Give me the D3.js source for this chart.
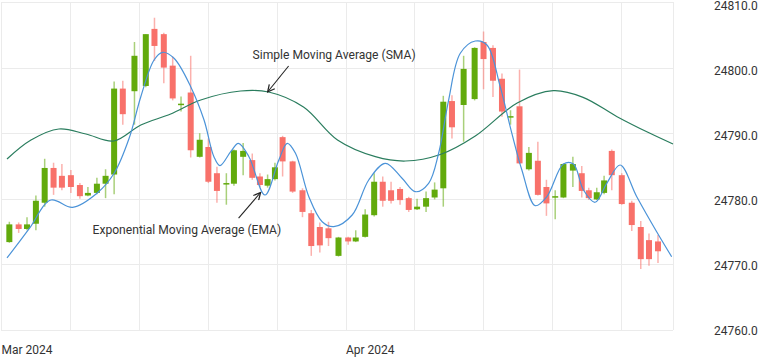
<!DOCTYPE html>
<html>
<head>
<meta charset="utf-8">
<script src="https://cdn.jsdelivr.net/npm/d3@7"></script>
<style>
  body { margin: 0; background: #fff; }
  text { font-family: Roboto, sans-serif; fill: #333; }
</style>
</head>
<body>
<script>
// Candle data (time in days since 1 Mar 2024)
const days = [0.75, 1.59, 2.34, 3.14, 3.93, 4.73, 5.48, 6.29, 7.10, 7.82, 8.63, 9.41, 10.18, 10.96, 12.01, 13.03, 13.81, 14.65, 15.45, 16.20,
  17.07, 17.88, 18.66, 19.43, 20.28, 20.96, 21.79, 22.61, 23.30, 23.99, 24.65, 25.34, 26.24, 27.13, 27.92, 28.69, 29.47, 30.37, 31.24, 31.92,
  32.77, 33.58, 34.35, 35.10, 35.91, 36.69, 37.44, 38.25, 39.02, 39.80, 40.58, 41.63, 42.62, 43.42, 44.27, 45.08, 45.85, 46.66, 47.50, 48.31,
  49.08, 49.87, 50.61, 51.46, 52.26, 52.89, 53.61, 54.27, 54.96, 55.86, 56.76, 57.57, 58.31, 59.12];
const opens = [24773.4, 24776.1, 24775.4, 24776.2, 24779.4, 24784.7, 24783.5, 24783.6, 24782.1, 24780.5, 24780.9, 24782.3, 24783.7, 24796.8, 24796.4, 24797.2, 24805.9, 24805.1, 24800.3, 24794.3,
  24796.2, 24786.4, 24787.9, 24783.9, 24782.2, 24782.3, 24786.4, 24785.9, 24783.4, 24782.0, 24783.0, 24789.4, 24785.7, 24781.3, 24777.8, 24775.7, 24775.5, 24771.3, 24774.1, 24773.5,
  24774.2, 24777.5, 24782.6, 24781.3, 24781.5, 24780.1, 24778.4, 24778.8, 24780.2, 24781.6, 24794.9, 24794.3, 24795.2, 24803.9, 24803.0, 24798.3, 24792.4, 24794.1, 24784.5, 24785.8,
  24781.8, 24780.2, 24780.2, 24784.3, 24783.9, 24781.3, 24779.9, 24780.9, 24787.3, 24783.6, 24779.4, 24775.7, 24773.7, 24773.5];
const highs = [24776.5, 24776.4, 24777.2, 24780.5, 24786.1, 24785.5, 24785.3, 24784.4, 24782.4, 24781.8, 24783.2, 24784.5, 24797.9, 24798.0, 24803.9, 24805.1, 24807.6, 24805.3, 24801.7, 24795.6,
  24801.8, 24790.0, 24789.2, 24784.9, 24783.9, 24787.5, 24788.5, 24786.9, 24783.9, 24783.7, 24785.5, 24789.6, 24785.8, 24781.6, 24778.3, 24776.4, 24776.5, 24774.2, 24774.2, 24775.2,
  24778.4, 24783.9, 24783.4, 24782.6, 24781.8, 24780.3, 24780.0, 24781.1, 24782.5, 24795.7, 24795.8, 24801.8, 24803.1, 24805.5, 24803.4, 24799.1, 24793.5, 24799.7, 24787.9, 24788.7,
  24782.9, 24781.3, 24785.4, 24786.4, 24785.0, 24781.7, 24781.7, 24783.5, 24787.5, 24783.9, 24779.7, 24776.6, 24774.7, 24774.5];
const lows = [24773.3, 24774.8, 24775.2, 24775.2, 24778.8, 24780.6, 24781.3, 24780.9, 24780.0, 24780.4, 24780.7, 24780.1, 24780.7, 24791.3, 24791.3, 24797.0, 24801.0, 24797.6, 24795.0, 24793.3,
  24786.3, 24786.3, 24782.4, 24779.4, 24779.1, 24782.0, 24783.6, 24782.9, 24781.8, 24781.7, 24782.8, 24783.4, 24780.9, 24777.2, 24771.3, 24771.8, 24772.8, 24771.2, 24773.0, 24773.4,
  24774.1, 24777.3, 24778.8, 24779.3, 24779.1, 24778.0, 24778.3, 24778.0, 24779.9, 24778.8, 24789.2, 24788.7, 24795.0, 24796.7, 24795.5, 24792.5, 24791.3, 24785.3, 24784.3, 24780.5,
  24777.4, 24776.9, 24780.1, 24781.8, 24780.2, 24779.8, 24779.8, 24780.7, 24781.3, 24779.1, 24775.1, 24769.3, 24769.8, 24770.2];
const closes = [24776.1, 24775.4, 24776.1, 24779.7, 24784.7, 24781.7, 24781.7, 24781.8, 24780.4, 24780.9, 24782.3, 24783.5, 24796.8, 24792.9, 24801.8, 24805.1, 24803.3, 24800.0, 24795.3, 24794.5,
  24787.4, 24789.0, 24782.6, 24781.2, 24782.4, 24787.4, 24787.3, 24783.2, 24782.1, 24783.0, 24784.8, 24785.7, 24781.1, 24778.0, 24772.8, 24772.9, 24774.0, 24774.1, 24773.5, 24774.1,
  24777.6, 24782.6, 24779.7, 24779.7, 24779.8, 24778.3, 24778.8, 24780.1, 24781.4, 24794.8, 24790.9, 24799.8, 24803.0, 24801.3, 24798.0, 24793.3, 24792.6, 24785.4, 24787.0, 24780.6,
  24779.3, 24780.4, 24785.3, 24785.3, 24781.2, 24780.1, 24781.0, 24782.8, 24783.6, 24779.2, 24776.0, 24770.8, 24770.8, 24772.0];

// Moving averages
const smaDays = [0.54, 2.70, 5.21, 7.64, 10.15, 12.58, 15.27, 17.97, 21.56, 24.08, 27.22, 30.28, 33.69, 36.39, 39.53, 42.68, 46.45, 49.69, 52.38, 55.44, 58.40, 60.47];
const smaValues = [24786.07, 24788.96, 24790.64, 24789.88, 24788.81, 24791.25, 24792.93, 24795.06, 24796.43, 24796.28, 24793.99, 24788.96, 24786.42, 24785.76, 24786.75, 24789.57, 24794.6, 24796.48, 24795.47, 24792.52, 24789.98, 24788.35];
const emaDays = [0.54, 2.52, 4.49, 6.44, 8.69, 10.18, 11.53, 12.58, 13.77, 14.53, 15.57, 17.07, 18.27, 19.16, 19.70, 20.67, 21.36, 22.31, 23.75, 25.00, 25.76, 26.50, 27.70, 28.90, 29.95,
  31.60, 33.09, 34.59, 36.09, 37.29, 38.48, 39.38, 40.28, 41.33, 42.68, 43.73, 44.92, 45.97, 46.87, 48.07, 49.12, 50.61, 51.51, 52.41, 53.46, 54.51, 55.71, 57.21, 59.00, 60.35];
const emaValues = [24770.98, 24775.40, 24779.82, 24778.70, 24780.93, 24783.89, 24789.22, 24795.56, 24801.16, 24802.33, 24801.42, 24797.09, 24792.01, 24786.42, 24785.05, 24787.18, 24788.46, 24786.42, 24780.58, 24785.91, 24788.46, 24786.94, 24780.32, 24776.51, 24775.75,
  24777.53, 24782.87, 24785.41, 24783.13, 24781.08, 24782.36, 24786.94, 24795.06, 24802.18, 24804.05, 24803.45, 24797.09, 24789.98, 24784.39, 24778.95, 24780.32, 24785.30, 24785.30, 24781.34, 24779.47, 24782.36, 24785.15, 24780.32, 24774.98, 24771.17];

// Axis labels
const monthTicks = [0, 31];
const monthLabels = ["Mar 2024", "Apr 2024"];
const priceTicks = [24760, 24770, 24780, 24790, 24800, 24810];

const width = 762, height = 358;
const plot = { left: 1, right: 673, top: 2, bottom: 330 };

const svg = d3.select("body").append("svg")
  .attr("width", width)
  .attr("height", height);

const x = d3.scaleLinear().domain([0, 60.47]).range([plot.left, plot.right]);
const y = d3.scaleLinear().domain([24760, 24810]).range([plot.bottom, plot.top]);
// labels sit a little below their grid lines, the top one kept inside the frame
const yLabel = d3.scaleLinear().domain([24760, 24810]).range([331, 6]);

// Grid
const grid = svg.append("g").attr("stroke", "#ebebeb").attr("stroke-width", 1);
grid.selectAll(".h").data(priceTicks).enter().append("line")
  .attr("x1", plot.left).attr("x2", plot.right)
  .attr("y1", d => Math.round(y(d)) + 0.5).attr("y2", d => Math.round(y(d)) + 0.5);
grid.selectAll(".v").data(d3.range(0, 60, 6.2).concat([60.47])).enter().append("line")
  .attr("x1", d => Math.round(x(d)) + 0.5).attr("x2", d => Math.round(x(d)) + 0.5)
  .attr("y1", plot.top).attr("y2", plot.bottom);

// Right axis
const yAxis = svg.append("g")
  .attr("transform", `translate(${plot.right},0)`)
  .call(d3.axisRight(yLabel).tickValues(priceTicks).tickFormat(d3.format(".1f")).tickSize(0).tickPadding(41));
yAxis.select(".domain").remove();
yAxis.selectAll("text").attr("font-size", 12).attr("font-family", "Roboto").attr("fill", "#333");

// Bottom axis
const xAxis = svg.append("g")
  .attr("transform", `translate(0,${plot.bottom})`)
  .call(d3.axisBottom(x).tickValues(monthTicks).tickFormat((d, i) => monthLabels[i]).tickSize(0).tickPadding(15));
xAxis.select(".domain").remove();
xAxis.selectAll("text").attr("text-anchor", "start").attr("font-size", 12).attr("font-family", "Roboto").attr("fill", "#333");

// Candles
const candles = days.map((d, i) => ({ t: d, o: opens[i], h: highs[i], l: lows[i], c: closes[i] }));
const up = "#62aa0c", down = "#f8716a";
const bodyW = 6;

const cg = svg.append("g");
cg.selectAll(".wick").data(candles).enter().append("line")
  .attr("x1", d => x(d.t)).attr("x2", d => x(d.t))
  .attr("y1", d => y(d.h)).attr("y2", d => y(d.l))
  .attr("stroke", d => d.c >= d.o ? up : down)
  .attr("stroke-opacity", 0.55)
  .attr("stroke-width", 1.5);
cg.selectAll(".body").data(candles).enter().append("rect")
  .attr("x", d => x(d.t) - bodyW / 2)
  .attr("width", bodyW)
  .attr("y", d => y(Math.max(d.o, d.c)))
  .attr("height", d => Math.max(1.5, Math.abs(y(d.o) - y(d.c))))
  .attr("fill", d => d.c >= d.o ? up : down);

// Moving average lines
const line = d3.line()
  .x(d => x(d[0]))
  .y(d => y(d[1]))
  .curve(d3.curveCatmullRom.alpha(0.5));

svg.append("path")
  .datum(smaDays.map((d, i) => [d, smaValues[i]]))
  .attr("d", line)
  .attr("fill", "none")
  .attr("stroke", "#2a7d5e")
  .attr("stroke-width", 1.2);

svg.append("path")
  .datum(emaDays.map((d, i) => [d, emaValues[i]]))
  .attr("d", line)
  .attr("fill", "none")
  .attr("stroke", "#4b93d8")
  .attr("stroke-width", 1.2);

// Annotations
svg.append("defs").append("marker")
  .attr("id", "arrow")
  .attr("viewBox", "0 0 10 10")
  .attr("refX", 9).attr("refY", 5)
  .attr("markerWidth", 8).attr("markerHeight", 8)
  .attr("orient", "auto")
  .append("path")
  .attr("d", "M1,1 L9,5 L1,9")
  .attr("fill", "none")
  .attr("stroke", "#222")
  .attr("stroke-width", 1.4);

const notes = [
  { text: "Simple Moving Average (SMA)", tx: 22.64, ty: 24801.31, from: [25.88, 24800.24], to: [23.99, 24796.28] },
  { text: "Exponential Moving Average (EMA)", tx: 8.24, ty: 24774.63, from: [21.38, 24777.07], to: [23.36, 24780.96] }
];
notes.forEach(n => {
  svg.append("text")
    .attr("x", x(n.tx)).attr("y", y(n.ty))
    .attr("font-size", 12.1)
    .attr("fill", "#333")
    .text(n.text);
  svg.append("line")
    .attr("x1", x(n.from[0])).attr("y1", y(n.from[1]))
    .attr("x2", x(n.to[0])).attr("y2", y(n.to[1]))
    .attr("stroke", "#222")
    .attr("stroke-width", 1.1)
    .attr("marker-end", "url(#arrow)");
});
</script>
</body>
</html>
